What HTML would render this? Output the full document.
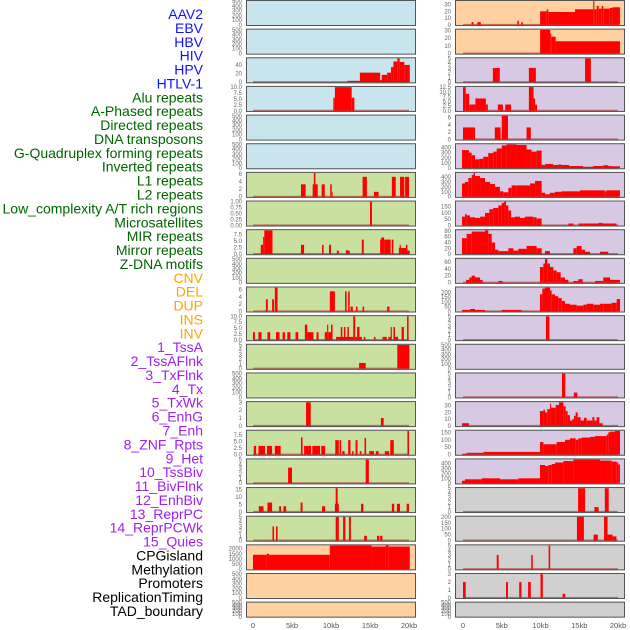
<!DOCTYPE html>
<html><head><meta charset="utf-8">
<style>
html,body{margin:0;padding:0;background:#fff;}
svg{display:block;font-family:"Liberation Sans",sans-serif;}
</style></head>
<body>
<svg id="chart" width="630" height="630" viewBox="0 0 630 630"></svg>
<script>
// ---------- category labels ----------
const labels = ["AAV2","EBV","HBV","HIV","HPV","HTLV-1","Alu repeats","A-Phased repeats","Directed repeats","DNA transposons","G-Quadruplex forming repeats","Inverted repeats","L1 repeats","L2 repeats","Low_complexity A/T rich regions","Microsatellites","MIR repeats","Mirror repeats","Z-DNA motifs","CNV","DEL","DUP","INS","INV","1_TssA","2_TssAFlnk","3_TxFlnk","4_Tx","5_TxWk","6_EnhG","7_Enh","8_ZNF_Rpts","9_Het","10_TssBiv","11_BivFlnk","12_EnhBiv","13_ReprPC","14_ReprPCWk","15_Quies","CPGisland","Methylation","Promoters","ReplicationTiming","TAD_boundary"];
const labelGroups = [0,0,0,0,0,0,1,1,1,1,1,1,1,1,1,1,1,1,1,2,2,2,2,2,3,3,3,3,3,3,3,3,3,3,3,3,3,3,3,4,4,4,4,4];
const xTickValues = [0,5,10,15,20];
const xTickLabels = ["0","5kb","10kb","15kb","20kb"];

// ---------- left column series: [startKb, endKb, value] ----------
const L2 = [[12.1,13.7,3],[13.7,16.3,22],[16.3,16.5,5],[16.5,17.2,17],[17.2,17.7,22],[17.7,18.0,35],[18.0,18.5,48],[18.5,18.8,55],[18.8,19.4,47],[19.4,20.1,40]];
const L3 = [[10.3,10.5,5.5],[10.5,12.65,10],[12.65,13.0,5.5]];
const L6 = [[6.15,6.75,3.3],[7.65,8.3,3.3],[7.8,8.0,6.3],[8.8,9.2,3.3],[9.9,10.1,3.3],[10.1,10.2,1.3],[14.05,14.6,5.3],[15.5,16.1,1.3],[17.8,18.3,5.3],[18.85,19.4,5.3],[19.5,20.0,5.3]];
const L7 = [[15.0,15.25,1]];
const L8 = [[1.0,1.3,3.5],[1.3,1.45,6.5],[1.45,2.5,9],[6.15,6.55,3.5],[8.85,9.05,3.5],[9.75,10.0,3.5],[10.75,11.0,1.3],[11.9,12.4,1.3],[12.0,12.15,1.6],[13.95,14.2,5.5],[16.3,16.9,5.5],[16.45,16.8,6.3],[16.9,17.65,5.5],[17.8,18.0,5.5],[18.7,19.8,2.3],[18.8,18.95,3.5],[19.6,19.8,3.5],[19.8,20.1,1.3]];
const L10 = [[1.65,1.9,3.3],[2.45,2.7,3.3],[2.8,3.15,6.5],[9.85,10.5,5.5],[11.8,12.0,5.5],[12.2,12.4,5.5],[12.5,12.8,1.3],[13.2,13.4,1.3],[14.05,14.25,1.3],[17.2,17.5,1.3]];
const L11 = [[0,0.25,3.3],[0.7,1.1,3.3],[1.85,2.2,3.3],[2.95,3.4,3.3],[3.8,4.1,3.3],[4.4,4.8,3.3],[5.45,5.8,3.3],[6.65,6.95,6.5],[6.95,7.75,3.3],[8.15,8.4,3.3],[9.2,9.5,3.3],[9.5,9.65,6.5],[9.65,10.0,3.3],[10.0,10.2,6.5],[10.65,12.85,1.3],[11.25,11.45,5.5],[11.65,11.85,5.5],[12.1,12.3,5.5],[12.85,13.1,10],[13.1,13.35,1.3],[13.35,13.65,5.5],[13.65,13.95,1.3],[14.2,14.4,1.3],[15.5,15.7,1.3],[16.6,17.15,1.3],[17.35,17.65,1.3],[17.65,17.8,5.5],[18.0,18.2,5.5],[18.2,18.6,1.3],[19.05,19.35,5.5],[19.75,19.95,10]];
const L12 = [[13.6,14.45,1.2],[18.5,20.05,5]];
const L14 = [[6.8,7.4,3],[16.4,16.75,1]];
const L15 = [[0.1,0.4,3.3],[0.7,1.55,3.3],[1.8,2.45,3.3],[2.8,3.55,3.3],[6.15,6.35,6.5],[6.55,7.45,3.3],[7.6,8.6,3.3],[8.75,9.25,3.3],[10.55,11.0,5.5],[11.1,11.3,5.5],[11.45,11.75,1.3],[12.2,12.5,5.5],[12.7,12.9,1.3],[13.15,13.4,5.5],[13.7,13.9,1.3],[14.3,14.5,6.3],[14.9,15.5,1.3],[15.75,16.1,1.3],[16.9,17.45,1.3],[17.6,18.05,5.5],[19.8,20.0,9]];
const L16 = [[4.5,5.0,3.3],[14.45,14.85,5]];
const L17 = [[0.75,1.35,3.8],[1.85,2.45,6.3],[3.35,3.6,3.8],[3.9,4.25,3.8],[6.1,6.35,6.3],[8.85,9.25,3.8],[10.5,11.0,5.5],[10.6,10.85,16],[13.85,14.15,5.5],[17.8,18.1,5.5],[18.45,18.85,5.5],[19.7,20.0,5.5]];
const L18 = [[2.5,2.7,3],[2.95,3.15,3],[10.6,11.0,5],[11.55,11.85,5],[12.3,12.55,5],[14.25,14.6,1],[15.9,16.2,1],[16.3,16.6,1]];
const L19 = [[0,1.75,1400],[1.75,2.05,1500],[2.05,9.85,1400],[9.85,15.2,2300],[15.2,17.0,2200],[17.0,17.4,2300],[17.4,20.1,2200]];

// ---------- right column series ----------
const R0 = [[1.1,1.35,4],[1.85,2.3,4],[7.0,7.2,6],[7.5,7.7,4],[9.95,10.8,20],[10.8,11.0,23],[11.0,14.45,19],[14.45,16.8,23],[16.8,16.95,35],[16.95,17.25,23],[17.25,17.5,28],[17.5,17.9,24],[17.9,18.1,28],[18.1,18.95,24],[18.95,19.3,25],[19.3,20.25,26]];
const R1 = [[9.95,11.25,31],[11.25,11.4,26],[11.4,11.95,22],[11.95,20.25,16]];
const R2 = [[3.85,4.75,3],[8.5,9.4,3],[15.75,16.5,5]];
const R3 = [[0,0.35,12.5],[0.35,0.8,9],[0.8,1.6,3.3],[1.6,2.95,6.5],[2.95,3.2,3.3],[4.5,5.15,3.3],[5.45,6.2,3.3],[8.5,9.1,12.5],[9.1,9.3,6.5],[9.3,9.55,3.3]];
const R4 = [[0,1.55,3.3],[4.1,4.85,3.3],[5.0,5.8,6.5],[8.2,8.75,3.3]];
const R5_edges = [-0.13,0.77,1.12,1.55,2.1,2.6,3.25,3.9,4.35,5.0,5.6,6.9,8.2,8.85,9.5,10.15,10.6,11.65,12.3,12.7,13.7,15.5,16.8,18.1,18.75,19.2,20.25];
const R5_vals  = [350,300,250,170,180,220,290,320,380,440,460,450,360,320,340,60,80,60,70,60,40,25,40,55,40,35];
const R6_edges = [-0.13,0.26,0.69,1.12,1.35,1.55,2.2,2.84,3.48,4.13,4.77,5.2,5.85,6.28,6.92,8.65,9.3,10.15,10.6,11.2,11.87,12.73,15.1,18.3,18.5,20.25];
const R6_vals  = [270,300,380,440,480,420,380,300,260,200,110,90,180,230,230,270,320,80,50,80,100,110,130,110,130];
const R7_edges = [-0.13,0.26,0.47,0.9,1.55,2.2,2.84,3.4,3.9,4.56,5.0,5.3,5.55,5.85,6.2,6.7,7.35,8.0,9.07,9.5,10.15,13.6,14.24,14.9,17.46,18.0,19.8];
const R7_vals  = [70,90,80,65,60,70,100,130,140,160,180,190,160,120,65,70,60,70,65,55,0,15,0,15,20,15];
const R8_edges = [-0.13,0.47,1.12,1.55,2.84,3.27,3.7,4.13,4.56,5.85,6.5,7.14,8.2,9.5,10.15,10.58,11.23,14.24,14.67,15.3,15.74,16.4,17.67,18.75];
const R8_vals  = [55,70,78,78,82,70,40,15,10,20,12,18,28,20,0,10,0,20,28,15,8,0,8];
const R9_edges = [0.39,0.82,1.12,1.55,2.2,2.54,4.56,5.12,9.93,10.37,10.58,10.88,11.23,11.66,12.09,12.6,13.16,13.6,14.24,14.88,15.44,17.03,18.1,18.97,20.26];
const R9_vals  = [8,15,20,15,8,0,5,0,45,55,68,55,45,35,30,15,8,0,5,10,0,5,15,8];
const R10_edges = [-0.13,0.9,1.55,2.84,5.0,7.57,9.93,10.24,10.58,11.23,11.44,11.87,12.3,12.73,13.16,13.8,14.67,15.53,15.96,16.82,17.68,18.1,19.18,19.83,20.26];
const R10_vals  = [15,25,15,0,15,0,180,240,250,220,180,160,140,110,80,70,60,70,80,70,80,80,90,130];
const R11 = [[10.7,11.15,5]];
const R13 = [[12.77,13.2,5],[14.3,14.75,1]];
const R14_edges = [-0.13,0.77,9.93,10.37,10.58,10.88,11.23,11.35,11.96,12.39,12.95,13.25,13.5,13.8,14.1,14.32,14.54,14.8,15.18,15.61,15.96,16.69,16.95,17.25,17.59,18.02,19.18];
const R14_vals  = [4,0,22,24,20,25,33,27,31,35,29,22,16,8,10,15,20,13,8,12,8,13,8,13,4];
const R15_edges = [-0.13,0.47,2.62,9.93,10.37,12.09,13.16,13.8,14.54,14.88,15.31,16.39,17.03,18.54,18.75,18.97,19.61,20.26];
const R15_vals  = [5,12,18,85,70,85,100,110,100,110,115,120,125,135,150,155,160];
const R16_edges = [-0.13,0.26,2.41,4.77,7.14,9.93,10.58,11.0,11.44,11.87,12.95,14.24,17.68,19.18,19.83,20.04,20.26];
const R16_vals  = [50,80,100,80,100,370,350,370,390,420,450,480,460,440,420,380];
const R17 = [[14.85,15.75,5],[16.95,17.5,1],[18.3,18.8,5]];
const R18 = [[14.7,15.6,200],[16.85,17.4,50],[18.2,18.65,200],[18.65,19.3,50],[19.3,19.8,35]];
const R19 = [[4.35,4.6,3],[8.8,9.0,3],[11.05,11.25,5]];
const R20 = [[0,0.35,2],[5.55,5.8,2],[7.25,7.55,2],[8.4,8.75,2],[10.0,10.3,3],[12.85,13.2,0.5]];

// ---------- y tick values per panel ----------
const EMPTY_TICKS = [0,100,200,300,400,500];
const leftTicks = [EMPTY_TICKS,EMPTY_TICKS,[0,20,40],[0,2.5,5,7.5,10],EMPTY_TICKS,EMPTY_TICKS,[0,2,4,6],[0,0.25,0.5,0.75,1],[0,2.5,5,7.5],EMPTY_TICKS,[0,2,4,6],[0,2.5,5,7.5,10],[0,1,2,3,4,5],EMPTY_TICKS,[0,1,2,3],[0,2.5,5,7.5],[0,1,2,3,4,5],[0,5,10,15],[0,1,2,3,4,5],[0,500,1000,1500,2000],EMPTY_TICKS,EMPTY_TICKS];
const rightTicks = [[0,10,20,30],[0,10,20,30],[0,1,2,3,4,5],[0,2.5,5,7.5,10,12.5],[0,2,4,6],[0,100,200,300,400],[0,100,200,300,400],[0,50,100,150],[0,20,40,60,80],[0,20,40,60],[0,50,100,150,200],[0,1,2,3,4,5],EMPTY_TICKS,[0,1,2,3,4,5],[0,10,20,30],[0,50,100,150],[0,100,200,300,400],[0,1,2,3,4,5],[0,50,100,150,200],[0,1,2,3,4,5],[0,1,2,3],EMPTY_TICKS];

function steps(edges, vals){ const s=[]; for(let i=0;i<vals.length;i++){ s.push([edges[i],edges[i+1],vals[i]]); } return s; }
const leftSeries = [null,null,L2,L3,null,null,L6,L7,L8,null,L10,L11,L12,null,L14,L15,L16,L17,L18,L19,null,null];
const rightSeries = [R0,R1,R2,R3,R4,steps(R5_edges,R5_vals),steps(R6_edges,R6_vals),steps(R7_edges,R7_vals),steps(R8_edges,R8_vals),steps(R9_edges,R9_vals),steps(R10_edges,R10_vals),R11,null,R13,steps(R14_edges,R14_vals),steps(R15_edges,R15_vals),steps(R16_edges,R16_vals),R17,R18,R19,R20,null];

const NS="http://www.w3.org/2000/svg";
const svg=document.getElementById('chart');
function mk(tag, attrs, parent){ const e=document.createElementNS(NS,tag); for(const k in attrs) e.setAttribute(k,attrs[k]); (parent||svg).appendChild(e); return e; }

const labelColors=["#1010ff","#006400","#ffa500","#a020f0","#000000"];
const leftBg=i=> i<6?"#c8e4ec":(i<19?"#c8e0a0":"#ffd0a0");
const rightBg=i=> i<2?"#ffd0a0":(i<17?"#d7c8e4":"#d0d0d0");

// labels
const labelStep = (611-14)/(labels.length-1);
labels.forEach((t,i)=>{
  const e=mk('text',{x:203,y:14+i*labelStep+5,'text-anchor':'end','font-size':'14',fill:labelColors[labelGroups[i]]});
  e.textContent=t;
  
  
});

function drawPanel(col, i, series, ticks, bg){
  const px = col===0?246:455;
  const zero = col===0?253:463;
  const kbw = col===0?7.8:7.75;
  const xs = kb=> zero + kb*kbw;
  const y0 = i*28.65;
  const h = i===21?16:26;
  const g=mk('g',{});
  
  
  mk('rect',{x:px,y:y0,width:170,height:h,fill:bg},g);
  const M = series? Math.max(...series.map(s=>s[2])) : 500;
  const lo=-0.05*M, hi=1.05*M;
  const ys = v=> y0 + h - (v-lo)/(hi-lo)*h;
  if(series){
    const bl=mk('line',{x1:xs(0),x2:xs(20),y1:ys(0),y2:ys(0),stroke:'rgba(170,40,40,0.6)','stroke-width':2},g);
    
    
    series.forEach(s=>{
      if(s[2]<=0) return;
      const r=mk('rect',{x:xs(s[0]),y:ys(s[2]),width:Math.max(0.8,xs(s[1])-xs(s[0])),height:ys(0)-ys(s[2]),fill:'#ff0000'},g);
      
      
    });
  }
  mk('rect',{x:px+0.5,y:y0+0.5,width:169,height:h-1,fill:'none',stroke:'#555','stroke-width':1},g);
  ticks.forEach(v=>{
    const yy=ys(v);
    if(yy<y0-2||yy>y0+h+2) return;
    const t=mk('text',{x:px-4,y:yy+2,'text-anchor':'end','font-size':'6',fill:'#666'},g);
    t.textContent = (ticks===leftTicks[7] ? v.toFixed(2) : (ticks.some(x=>x%1!==0)? v.toFixed(1): String(v)));
    
    
  });
}
for(let i=0;i<22;i++){
  drawPanel(0,i,leftSeries[i],leftTicks[i],leftBg(i));
  drawPanel(1,i,rightSeries[i],rightTicks[i],rightBg(i));
}
// x axes
[[253,7.8],[463,7.75]].forEach(([z,w])=>{
  xTickValues.forEach((v,k)=>{
    const t=mk('text',{x:z+v*w,y:628,'text-anchor':'middle','font-size':'7.5',fill:'#555'});
    t.textContent=xTickLabels[k];
    
    
  });
});
</script>
</body></html>
